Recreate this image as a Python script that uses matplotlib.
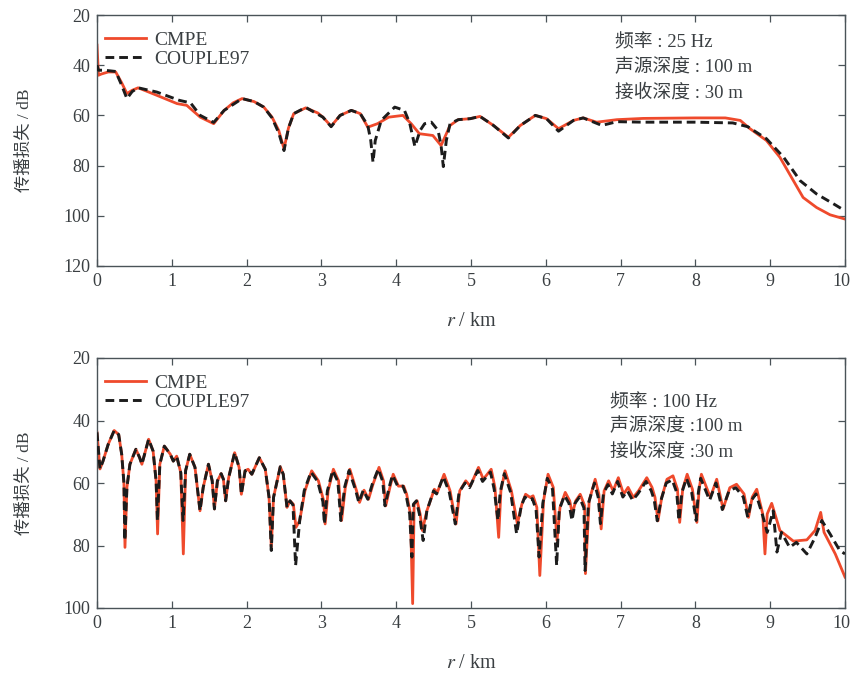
import matplotlib
matplotlib.use("Agg")
import matplotlib.pyplot as plt
import matplotlib.transforms as mtransforms

plt.rcParams['font.family'] = ['Liberation Serif', 'Noto Sans CJK SC']
plt.rcParams['mathtext.fontset'] = 'stix'

# ---------------- data: 25 Hz ----------------
r_cmpe_25 = [0, 0.02, 0.06, 0.15, 0.25, 0.33, 0.4, 0.47, 0.55, 0.8, 1.07, 1.2, 1.38, 1.56, 1.7,
             1.82, 1.94, 2.1, 2.23, 2.34, 2.43, 2.5, 2.56, 2.63, 2.79, 2.95, 3.02, 3.13, 3.25,
             3.4, 3.52, 3.62, 3.75, 3.9, 4.09, 4.2, 4.31, 4.49, 4.6, 4.72, 4.83, 4.99, 5.12,
             5.3, 5.5, 5.66, 5.86, 6.01, 6.17, 6.37, 6.5, 6.68, 6.95, 7.3, 8.0, 8.4, 8.6, 8.73,
             8.95, 9.13, 9.31, 9.44, 9.62, 9.8, 10.0]
tl_cmpe_25 = [32, 44, 43.5, 42.7, 42.7, 47, 51.3, 50, 49, 52, 55.3, 56, 60.7, 63.3, 58,
              55, 53.3, 54.5, 56.7, 60.7, 66, 73.3, 65, 59.3, 57, 59, 60.7, 64.3, 60,
              58, 59.3, 64.7, 63.3, 60.7, 60, 63.3, 67.3, 68, 72, 64, 61.7, 61.3, 60.4,
              64, 68.7, 64, 60, 61.3, 65.3, 62, 61, 62.7, 61.7, 61.2, 61, 61, 62, 65.3,
              70, 76.7, 86, 92.7, 96.7, 99.6, 101.3]

r_couple_25 = [0, 0.02, 0.1, 0.25, 0.33, 0.4, 0.47, 0.55, 0.8, 1.1, 1.25, 1.38, 1.56, 1.7,
               1.94, 2.1, 2.23, 2.34, 2.43, 2.5, 2.56, 2.63, 2.79, 3.02, 3.13, 3.25, 3.4, 3.52,
               3.62, 3.66, 3.69, 3.72, 3.8, 3.98, 4.11, 4.18, 4.25, 4.32, 4.38, 4.47, 4.56,
               4.6, 4.63, 4.67, 4.72, 4.83, 4.99, 5.12, 5.3, 5.5, 5.66, 5.86, 6.01, 6.17,
               6.37, 6.5, 6.75, 6.95, 7.3, 8.0, 8.5, 8.7, 8.95, 9.18, 9.4, 9.62, 9.85, 10.0]
tl_couple_25 = [40, 42, 42, 42.5, 48, 53.3, 50.5, 49, 50.7, 54, 55, 60, 62.8, 58,
                53.3, 54.5, 56.7, 61, 67, 74, 65, 59.3, 56.8, 60.7, 64.5, 60, 58, 59.3,
                64, 70, 78.7, 70, 62, 56.7, 58, 63, 72.4, 66, 63.3, 62.7, 66,
                72, 80.4, 70, 63.3, 61.7, 61.3, 60.4, 64, 69, 64, 60, 61.3, 66.3,
                62, 61, 64, 62.5, 62.7, 62.7, 63, 64.5, 69.3, 76.7, 86, 91.3, 95.3, 98]

# ---------------- data: 100 Hz ----------------
r_cmpe_100 = [0, 0.04, 0.08, 0.15, 0.23, 0.29, 0.33, 0.36, 0.374, 0.40, 0.44, 0.52, 0.57, 0.6,
              0.69, 0.75, 0.79, 0.81, 0.84, 0.9, 0.98, 1.02, 1.065, 1.12, 1.154, 1.185, 1.24,
              1.31, 1.377, 1.42, 1.49, 1.54, 1.57, 1.61, 1.66, 1.69, 1.72, 1.76, 1.84, 1.9,
              1.93, 1.98, 2.02, 2.07, 2.17, 2.25, 2.3, 2.33, 2.36, 2.45, 2.49, 2.54, 2.58,
              2.625, 2.66, 2.71, 2.78, 2.87, 2.96, 3.03, 3.05, 3.09, 3.16, 3.23, 3.27, 3.32,
              3.38, 3.47, 3.51, 3.57, 3.63, 3.69, 3.77, 3.83, 3.86, 3.92, 3.96, 4.03, 4.1,
              4.14, 4.19, 4.22, 4.24, 4.28, 4.32, 4.35, 4.41, 4.51, 4.55, 4.64, 4.72, 4.8,
              4.85, 4.93, 4.99, 5.1, 5.165, 5.27, 5.32, 5.37, 5.4, 5.455, 5.54, 5.62, 5.68,
              5.73, 5.79, 5.83, 5.88, 5.92, 5.97, 6.03, 6.1, 6.15, 6.19, 6.26, 6.32, 6.355,
              6.4, 6.46, 6.52, 6.53, 6.58, 6.66, 6.71, 6.74, 6.78, 6.84, 6.9, 6.97, 7.04,
              7.1, 7.17, 7.24, 7.35, 7.42, 7.46, 7.5, 7.55, 7.62, 7.7, 7.76, 7.79, 7.83,
              7.89, 7.96, 8.02, 8.05, 8.08, 8.2, 8.285, 8.37, 8.46, 8.55, 8.65, 8.71, 8.76,
              8.82, 8.9, 8.93, 8.96, 9.02, 9.13, 9.31, 9.49, 9.6, 9.675, 9.72, 9.87, 10.0]
tl_cmpe_100 = [43.8, 55.5, 53, 47.6, 43.2, 44.5, 50.8, 60, 80.6, 61.4, 54, 49.2, 51.9, 54,
               46, 49.8, 59.3, 76.3, 54, 48.2, 50.8, 53, 51.4, 56.7, 82.7, 56, 50.8,
               55, 68.9, 61.4, 54, 59.3, 68.3, 59.3, 57, 58.8, 65.7, 58.3, 50.3, 55,
               63.6, 56.1, 55.6, 57.2, 51.9, 55.6, 64.6, 80.5, 64.6, 54.8, 57.2, 67.8, 65.7,
               66.8, 74.2, 72, 62.5, 56.1, 59.3, 65.7, 73.1, 62.5, 55.6, 59.3, 72, 61.4,
               55.6, 62.5, 66.2, 62.3, 65.2, 60.4, 55, 59.3, 67.3, 61, 57.2, 61, 61,
               63.6, 69.9, 98.6, 66.8, 65.7, 69.9, 75.2, 68.9, 62, 63, 57.2, 62.5, 73.1,
               62.5, 59.3, 61, 55, 58.8, 55.6, 61.4, 77.4, 62.5, 56.1, 62.5, 73.1, 66.8,
               63.6, 64.6, 64.1, 67.8, 89.6, 65.7, 57.2, 61.4, 78.4, 67.8, 63, 65.7, 69.9,
               65.7, 63.6, 67.3, 89, 65.7, 58.8, 63.6, 74.7, 62.5, 59.3, 62.5, 58.3, 63.6,
               61.4, 64.6, 62.5, 58.3, 61.4, 64.6, 72.1, 64.6, 58.8, 57.7, 62, 72.6, 62,
               57.2, 62, 72.6, 62, 57.2, 64.6, 58.8, 68.3, 61.5, 60.4, 63.5, 71, 64.5,
               62, 69.9, 82.7, 69.9, 66.5, 75.2, 78.6, 78.2, 75.2, 69.4, 75.8, 82.7, 90.1]

r_couple_100 = [0, 0.04, 0.08, 0.15, 0.23, 0.29, 0.33, 0.36, 0.372, 0.40, 0.44, 0.52, 0.57, 0.6,
                0.69, 0.75, 0.79, 0.808, 0.84, 0.9, 0.98, 1.02, 1.065, 1.12, 1.15, 1.185, 1.24,
                1.31, 1.377, 1.42, 1.49, 1.54, 1.57, 1.61, 1.66, 1.69, 1.72, 1.76, 1.84, 1.9,
                1.93, 1.98, 2.02, 2.07, 2.17, 2.25, 2.3, 2.33, 2.36, 2.45, 2.49, 2.54, 2.58,
                2.62, 2.655, 2.71, 2.77, 2.86, 2.95, 3.02, 3.04, 3.08, 3.15, 3.22, 3.26, 3.31,
                3.37, 3.46, 3.5, 3.56, 3.62, 3.68, 3.76, 3.82, 3.85, 3.91, 3.95, 4.02, 4.09,
                4.13, 4.18, 4.21, 4.23, 4.27, 4.31, 4.36, 4.41, 4.5, 4.54, 4.63, 4.71, 4.79,
                4.84, 4.92, 4.98, 5.09, 5.155, 5.26, 5.31, 5.36, 5.39, 5.445, 5.53, 5.61, 5.67,
                5.72, 5.78, 5.82, 5.87, 5.91, 5.96, 6.02, 6.09, 6.145, 6.18, 6.25, 6.31, 6.35,
                6.39, 6.45, 6.51, 6.525, 6.57, 6.65, 6.7, 6.73, 6.77, 6.83, 6.89, 6.96, 7.03,
                7.09, 7.16, 7.23, 7.34, 7.41, 7.45, 7.49, 7.54, 7.61, 7.69, 7.75, 7.78, 7.82,
                7.88, 7.95, 8.01, 8.04, 8.07, 8.19, 8.275, 8.36, 8.45, 8.54, 8.64, 8.7, 8.75,
                8.81, 8.9, 8.96, 9.04, 9.09, 9.15, 9.26, 9.35, 9.49, 9.6, 9.69, 9.8, 9.93, 10.0]
tl_couple_100 = [43.8, 55.5, 53, 47.6, 43.2, 44.5, 50.8, 60, 78.4, 61.4, 54, 49.2, 51.9, 54,
                 46, 49.8, 59.3, 72, 54, 48.2, 50.8, 53, 51.4, 56.7, 72, 56, 50.8,
                 55, 68.9, 61.4, 54, 59.3, 68.3, 59.3, 57, 58.8, 65.7, 58.3, 50.3, 55,
                 63.6, 56.1, 55.6, 57.2, 51.9, 55.6, 64.6, 81.6, 64.6, 54.8, 57.2, 67.8, 65.7,
                 67, 86.4, 72, 62.5, 56.5, 59.5, 66, 73.1, 62.5, 56, 59.5, 72, 61.4,
                 56, 62.5, 66.2, 62.3, 65.2, 60.4, 55.5, 59.5, 67.3, 61, 57.5, 61, 61,
                 63.6, 69.9, 83.7, 66.8, 65.7, 69.9, 78.4, 68.9, 62.5, 63.5, 58, 63, 73.1,
                 63, 60, 61.5, 56, 59.5, 56.5, 62, 72, 63, 57, 63, 76.3, 67.5,
                 64.5, 65.5, 65, 68.5, 83.7, 66.5, 58.5, 62, 86.4, 68.5, 64, 66.5, 72,
                 66.5, 64.5, 68, 88, 66.5, 60, 64.5, 73, 63.5, 60.5, 63.5, 59.5, 64.5,
                 62.5, 65.5, 63.5, 59.5, 62.5, 65.5, 72.1, 65.5, 60, 59, 63, 72, 63,
                 58.5, 63, 72, 63, 58.5, 65.5, 60, 68.5, 62.5, 61.5, 64.5, 71, 65.5,
                 63.5, 70.5, 75.8, 68.9, 82.1, 75.8, 80.6, 79, 82.7, 77.4, 72, 76.3, 81.6, 82.7]

legend_labels = ['CMPE', 'COUPLE97']
info_25 = ['频率 : 25 Hz', '声源深度 : 100 m', '接收深度 : 30 m']
info_100 = ['频率 : 100 Hz', '声源深度 :100 m', '接收深度 :30 m']

red = '#ef4a2c'
black = '#1c1c1c'
spine_c = '#4a5358'
text_c = '#3a3f42'

fig = plt.figure(figsize=(8.52, 6.75), dpi=100)
ax1 = fig.add_axes([97/852, 1-266/675, 748/852, 251/675])
ax2 = fig.add_axes([97/852, 1-608/675, 748/852, 250/675])

panels = [
    (ax1, r_cmpe_25, tl_cmpe_25, r_couple_25, tl_couple_25, (120, 20), [20, 40, 60, 80, 100, 120],
     info_25, 0.692, [0.888, 0.790, 0.692]),
    (ax2, r_cmpe_100, tl_cmpe_100, r_couple_100, tl_couple_100, (100, 20), [20, 40, 60, 80, 100],
     info_100, 0.686, [0.822, 0.725, 0.624]),
]

for ax, rc, tc, rk, tk, ylim, yt, info, tx, tys in panels:
    ax.plot(rc, tc, color=red, lw=2.0, label=legend_labels[0], zorder=2)
    ax.plot(rk, tk, color=black, lw=2.1, ls=(0, (3.0, 1.7)), label=legend_labels[1], zorder=3)
    ax.set_xlim(0, 10)
    ax.set_ylim(*ylim)
    ax.set_xticks(range(0, 11))
    ax.set_yticks(yt)
    ax.tick_params(direction='in', top=True, right=True, length=5, width=0.9,
                   color=spine_c, labelsize=13, labelcolor=text_c, pad=5)
    for s in ax.spines.values():
        s.set_color(spine_c)
        s.set_linewidth(1.0)
    ax.set_xlabel('$r$ / km', fontsize=14.5, color=text_c, labelpad=16)
    ax.set_ylabel('传播损失 / dB', fontsize=12.5, color=text_c, labelpad=22)
    leg = ax.legend(loc='upper left', frameon=False, fontsize=14, handlelength=2.1,
                    handletextpad=0.45, labelspacing=0.05, borderaxespad=0.0,
                    bbox_to_anchor=(0.0, 0.965))
    for t in leg.get_texts():
        t.set_color(text_c)
    for s, ty in zip(info, tys):
        ax.text(tx, ty, s, transform=ax.transAxes, fontsize=13.5, color=text_c, va='center', ha='left')

fig.canvas.draw()
shift = mtransforms.ScaledTranslation(-4/100, 0, fig.dpi_scale_trans)
for ax in (ax1, ax2):
    lbl = ax.get_xticklabels()[-1]
    lbl.set_transform(lbl.get_transform() + shift)

fig.savefig('out.png', dpi=100)
